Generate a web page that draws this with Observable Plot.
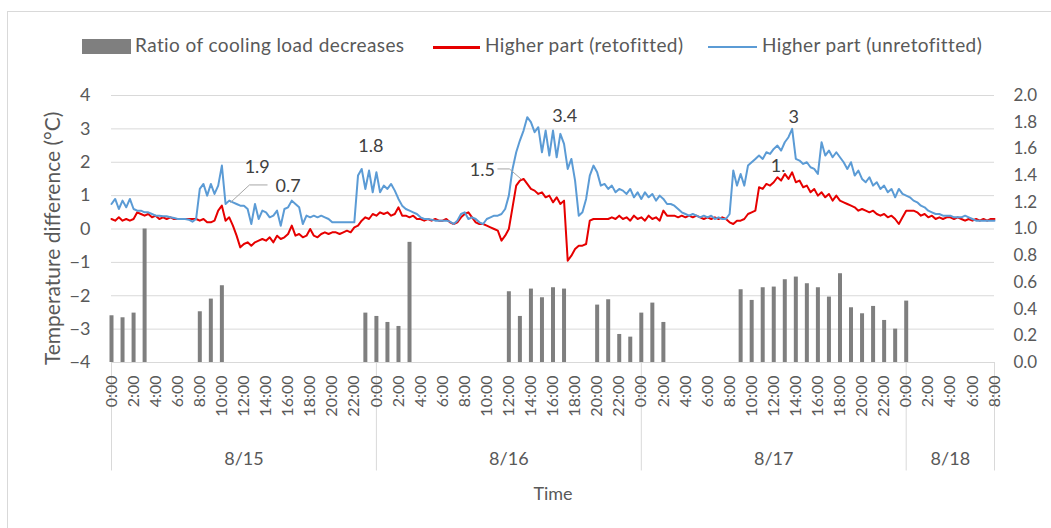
<!DOCTYPE html>
<html><head><meta charset="utf-8">
<script src="https://cdn.jsdelivr.net/npm/d3@7"></script>
<script src="https://cdn.jsdelivr.net/npm/@observablehq/plot@0.6"></script>
<style>
body{margin:0;background:#fff;overflow:hidden;font-family:Lato,"Open Sans",sans-serif;}
#wrap{position:relative;width:1051px;height:528px;overflow:hidden;background:#fff;}
#frame{position:absolute;left:7px;top:11px;width:1100px;height:600px;border:1px solid #d9d9d9;box-sizing:border-box;}
#legend{position:relative;height:70px;}
.lg{position:absolute;top:34px;font-size:19px;letter-spacing:0.4px;color:#595959;line-height:22px;white-space:nowrap;}
.sw{position:absolute;}
#chart{position:relative;}
g[aria-label="hour-ticks"] text{letter-spacing:1.5px;}
g[aria-label="y-title"] text{letter-spacing:0.9px;}
</style></head>
<body>
<div id="wrap">
<div id="frame"></div>
<div id="legend"></div>
<div id="chart"></div>
</div>
<script>
// ---- data ----
const stepHours = 1/3; // sampling interval of the temperature series (hours)
// Higher part (retofitted) temperature difference, °C
const red = [
 0.3,0.25,0.35, 0.25,0.3,0.25, 0.3,0.5,0.45, 0.4,0.45,0.35, 0.4,0.3,0.35, 0.3,0.35,0.3,
 0.3,0.3,0.3, 0.3,0.3,0.3, 0.25,0.3,0.2, 0.2,0.25,0.55, 0.7,0.25,0.35, 0.1,-0.2,-0.55,
 -0.45,-0.4,-0.5, -0.4,-0.35,-0.3, -0.35,-0.25,-0.4, -0.2,-0.3,-0.25, -0.15,0.1,-0.2, -0.15,-0.25,-0.2,
 0.0,-0.2,-0.25, -0.15,-0.1,-0.15, -0.1,-0.1,-0.15, -0.1,-0.05,-0.1, 0.05,0.1,0.25, 0.35,0.3,0.45,
 0.4,0.5,0.45, 0.5,0.4,0.45, 0.65,0.4,0.4, 0.35,0.4,0.3, 0.3,0.25,0.3, 0.25,0.3,0.25,
 0.25,0.3,0.2, 0.15,0.2,0.35, 0.45,0.5,0.35, 0.2,0.15,0.15, 0.1,0.05,0.0, -0.05,-0.35,-0.2,
 0.0,0.65,1.3, 1.45,1.5,1.35, 1.2,1.15,1.05, 1.1,0.95,1.0, 0.8,0.95,0.75, 0.85,-0.95,-0.8,
 -0.6,-0.5,-0.5, -0.45,0.25,0.3, 0.3,0.3,0.3, 0.3,0.35,0.3, 0.4,0.3,0.35, 0.25,0.4,0.3,
 0.35,0.25,0.4, 0.3,0.35,0.25, 0.55,0.4,0.4, 0.4,0.35,0.4, 0.35,0.4,0.35, 0.4,0.35,0.3,
 0.35,0.3,0.35, 0.3,0.35,0.3, 0.2,0.15,0.25, 0.25,0.3,0.45, 0.5,0.55,1.25, 1.2,1.35,1.3,
 1.4,1.55,1.45, 1.65,1.5,1.7, 1.4,1.45,1.25, 1.3,1.1,1.2, 1.0,1.1,0.95, 1.05,0.85,1.0,
 0.85,0.8,0.75, 0.7,0.65,0.55, 0.6,0.55,0.5, 0.55,0.45,0.4, 0.45,0.35,0.4, 0.3,0.15,0.35,
 0.55,0.55,0.55, 0.5,0.4,0.45, 0.35,0.4,0.3, 0.35,0.3,0.35, 0.35,0.3,0.35, 0.3,0.25,0.3,
 0.25,0.3,0.25, 0.3,0.25,0.3, 0.3
];
// Higher part (unretofitted) temperature difference, °C
const blue = [
 0.75,0.9,0.6, 0.85,0.65,0.9, 0.6,0.55,0.55, 0.5,0.5,0.45, 0.4,0.4,0.38, 0.38,0.35,0.33,
 0.3,0.3,0.3, 0.28,0.22,0.3, 1.2,1.35,1.0, 1.35,1.05,1.3, 1.9,0.75,0.85, 0.8,0.75,0.7,
 0.7,0.6,0.15, 0.75,0.3,0.55, 0.5,0.35,0.4, 0.55,0.1,0.6, 0.65,0.85,0.75, 0.65,0.15,0.4,
 0.35,0.4,0.35, 0.4,0.35,0.3, 0.2,0.2,0.2, 0.2,0.2,0.2, 0.2,1.6,1.8, 1.2,1.75,1.1,
 1.7,1.1,1.3, 1.2,1.35,1.15, 0.9,0.7,0.6, 0.55,0.5,0.45, 0.35,0.3,0.3, 0.28,0.25,0.25,
 0.25,0.25,0.22, 0.15,0.25,0.45, 0.5,0.3,0.35, 0.3,0.2,0.15, 0.3,0.35,0.4, 0.4,0.45,0.6,
 1.0,1.8,2.3, 2.65,2.95,3.35, 3.2,2.9,3.05, 2.3,2.95,2.2, 2.95,2.15,2.85, 2.55,1.8,2.1,
 1.45,0.4,0.5, 0.9,1.6,1.9, 1.7,1.3,1.35, 1.2,1.3,1.1, 1.2,1.15,1.05, 1.2,0.95,1.1,
 0.9,1.1,0.95, 1.05,0.85,1.0, 0.9,0.75,0.75, 0.7,0.6,0.5, 0.45,0.4,0.45, 0.4,0.35,0.4,
 0.35,0.4,0.3, 0.35,0.3,0.3, 0.45,1.75,1.3, 1.65,1.3,1.9, 2.0,2.1,2.2, 2.1,2.3,2.25,
 2.4,2.5,2.35, 2.6,2.75,3.0, 2.1,2.05,1.95, 2.0,1.85,1.8, 1.65,2.6,2.2, 2.35,2.15,2.3,
 2.15,2.0,1.8, 2.0,1.6,1.75, 1.5,1.4,1.55, 1.3,1.4,1.2, 1.3,1.1,1.2, 0.95,1.2,1.05,
 1.0,0.95,0.85, 0.8,0.7,0.65, 0.55,0.5,0.45, 0.45,0.4,0.4, 0.4,0.35,0.35, 0.35,0.4,0.35,
 0.3,0.25,0.25, 0.25,0.25,0.25, 0.25
];
// Ratio of cooling load decreases (right axis), by hour since 8/15 0:00
const barHours = [0,1,2,3, 8,9,10, 23,24,25,26,27, 36,37,38,39,40,41, 44,45,46,47,48,49,50,
  57,58,59,60,61,62,63,64,65,66,67,68,69,70,71,72];
const barRatios = [0.35,0.335,0.37,1.0, 0.38,0.475,0.575, 0.37,0.345,0.30,0.27,0.90,
  0.53,0.345,0.55,0.485,0.56,0.55, 0.43,0.47,0.21,0.19,0.37,0.445,0.30,
  0.545,0.465,0.56,0.565,0.62,0.64,0.59,0.56,0.49,0.665,0.41,0.365,0.42,0.315,0.25,0.46];
const leftTicks = [-4,-3,-2,-1,0,1,2,3,4];
const rightTicks = [0,0.2,0.4,0.6,0.8,1.0,1.2,1.4,1.6,1.8,2.0];
const hourTicks = d3.range(0, 81, 2);
const dayLabels = ["8/15","8/16","8/17","8/18"];
const dayStarts = [0,24,48,72];
const dayEnds = [24,48,72,80];
const annLabels = ["1.9","0.7","1.8","1.5","3.4","3","1."];
const annHours = [13.2,16.0,23.5,33.6,41.06,61.8,60.4];
const annValues = [1.85,1.27,2.47,1.75,3.38,3.35,1.87];
const leader07 = {hours:[14.1,12.5,10.8], values:[1.32,1.32,0.8]};
const leader15 = {hours:[35.0,36.05,37.1], values:[1.8,1.8,1.5]};

// ---- styles ----
const RED = "#e60000", BLUE = "#5b9bd5", GRAY = "#7f7f7f", GRID = "#d9d9d9", TXT = "#595959";

// legend
const legend = document.getElementById("legend");
legend.innerHTML = `
<div class="sw" style="left:82px;top:39px;width:49px;height:15px;background:${GRAY}"></div>
<div class="lg" style="left:135px">Ratio of cooling load decreases</div>
<div class="sw" style="left:433px;top:46px;width:47px;height:3px;background:${RED}"></div>
<div class="lg" style="left:485px">Higher part (retofitted)</div>
<div class="sw" style="left:708px;top:46px;width:49px;height:2px;background:${BLUE}"></div>
<div class="lg" style="left:762px">Higher part (unretofitted)</div>`;

// derived tables
const redRows = red.map((v, i) => ({h: i * stepHours, v}));
const blueRows = blue.map((v, i) => ({h: i * stepHours, v}));
const bars = barHours.map((h, i) => ({h, r: barRatios[i]}));
const toLeft = r => -4 + 4 * r; // right axis 0–2 maps onto left axis −4–4
const days = dayLabels.map((d, i) => ({d, mid: (dayStarts[i] + dayEnds[i]) / 2}));
const bounds = [...dayStarts, 80];
const anns = annLabels.map((t, i) => ({t, h: annHours[i], v: annValues[i]}));
const leaders = [leader07, leader15].flatMap((L, k) => L.hours.map((h, i) => ({k, h, v: L.values[i]})));

const chart = Plot.plot({
  width: 1051, height: 458,
  marginLeft: 111, marginRight: 57, marginTop: 25, marginBottom: 166,
  x: {domain: [0, 80], axis: null},
  y: {domain: [-4, 4], axis: null},
  style: {fontFamily: "Lato, 'Open Sans', sans-serif", color: TXT, background: "transparent", overflow: "visible"},
  marks: [
    Plot.gridY(leftTicks, {stroke: GRID, strokeOpacity: 1, strokeWidth: 1}),
    Plot.ruleX(bounds, {x: d => d, y1: -4, y2: -7.25, stroke: GRID, strokeWidth: 1}),
    Plot.ruleX(bars, {x: "h", y1: -4, y2: d => toLeft(d.r), stroke: GRAY, strokeWidth: 4}),
    Plot.line(redRows, {x: "h", y: "v", stroke: RED, strokeWidth: 2}),
    Plot.line(blueRows, {x: "h", y: "v", stroke: BLUE, strokeWidth: 2}),
    Plot.line(leaders, {x: "h", y: "v", z: "k", stroke: "#a6a6a6", strokeWidth: 1}),
    Plot.axisY({ticks: leftTicks, tickSize: 0, tickPadding: 21, fontSize: 18, label: null}),
    Plot.axisY(rightTicks.map(toLeft), {anchor: "right", tickFormat: d => ((d + 4) / 4).toFixed(1), tickSize: 0, tickPadding: 19, fontSize: 17, label: null}),
    Plot.text(hourTicks, {x: d => d, frameAnchor: "bottom", dy: 13, rotate: -90, textAnchor: "end", lineAnchor: "middle", text: d => `${d % 24}:00`, fontSize: 16, fill: TXT, ariaLabel: "hour-ticks"}),
    Plot.text(days, {x: "mid", y: -6.9, text: "d", fontSize: 18, fill: TXT}),
    Plot.text(["Time"], {x: 40, y: -7.95, text: d => d, fontSize: 18, fill: TXT}),
    Plot.text(["Temperature difference (°C)"], {frameAnchor: "left", dx: -58, y: -0.28, rotate: -90, textAnchor: "middle", lineAnchor: "middle", text: d => d, fontSize: 21, fill: TXT, ariaLabel: "y-title"}),
    Plot.text(anns, {x: "h", y: "v", text: "t", fontSize: 18, fill: "#404040"})
  ]
});
document.getElementById("chart").appendChild(chart);
</script>
</body></html>
